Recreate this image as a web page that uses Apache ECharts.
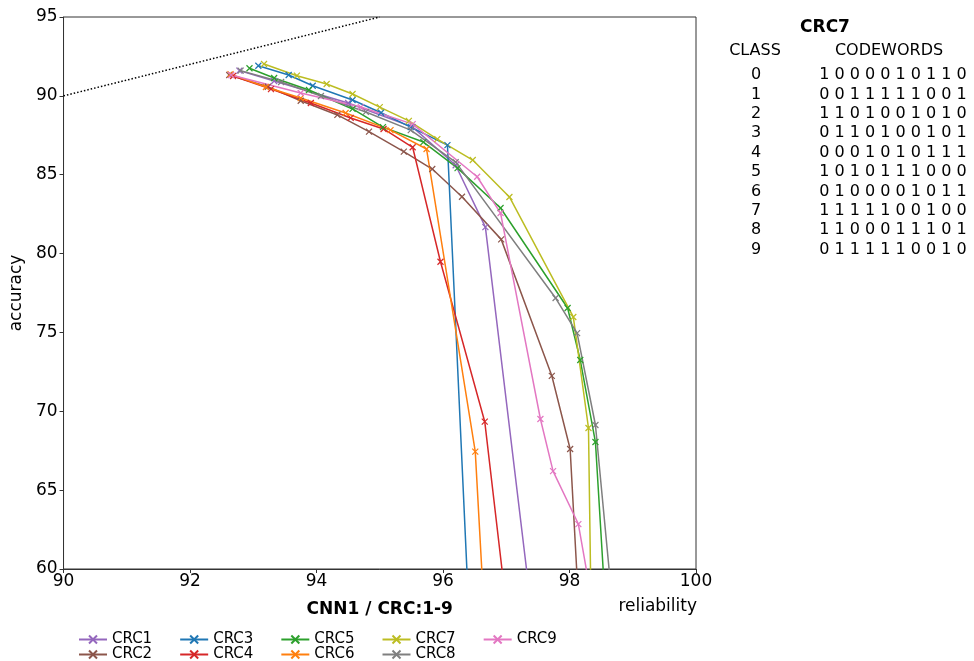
<!DOCTYPE html>
<html><head><meta charset="utf-8">
<script src="https://cdn.jsdelivr.net/npm/echarts@6/dist/echarts.min.js"></script>
<style>html,body{margin:0;padding:0;background:#fff}#c{width:974px;height:661px}</style>
</head><body><div id="c"></div>
<script>
const seriesNames = ['CRC1','CRC2','CRC3','CRC4','CRC5','CRC6','CRC7','CRC8','CRC9'];
const colors = ['#9467bd','#8c564b','#1f77b4','#d62728','#2ca02c','#ff7f0e','#bcbd22','#7f7f7f','#e377c2'];
const crc1 = [[92.78,91.6],[93.33,90.94],[94.50,89.55],[95.52,88.02],[96.20,85.6],[96.67,81.68],[97.38,58.0]];
const crc2 = [[92.62,91.32],[93.23,90.58],[93.75,89.69],[94.33,88.79],[94.83,87.73],[95.38,86.46],[95.83,85.36],[96.30,83.60],[96.92,80.90],[97.72,72.25],[98.01,67.61],[98.14,58.0]];
const crc3 = [[93.08,91.91],[93.56,91.32],[93.94,90.64],[94.57,89.74],[95.02,88.93],[95.49,88.02],[96.07,86.88],[96.40,58.0]];
const crc4 = [[92.68,91.26],[93.28,90.43],[93.91,89.55],[94.54,88.60],[95.06,87.90],[95.52,86.74],[95.96,79.48],[96.66,69.34],[96.99,58.0]];
const crc5 = [[92.94,91.75],[93.33,91.13],[93.88,90.37],[94.57,89.17],[95.05,88.02],[95.69,87.07],[96.23,85.42],[96.91,82.89],[97.97,76.55],[98.17,73.25],[98.41,68.05],[98.58,56.8]];
const crc6 = [[92.64,91.38],[93.20,90.56],[93.75,89.86],[94.46,88.91],[95.17,87.83],[95.74,86.63],[96.51,67.44],[96.64,58.0]];
const crc7 = [[93.17,92.02],[93.69,91.28],[94.16,90.75],[94.57,90.12],[95.0,89.29],[95.46,88.41],[95.91,87.26],[96.47,85.93],[97.05,83.59],[98.06,75.98],[98.30,68.94],[98.35,55.0]];
const crc8 = [[92.80,91.6],[93.44,90.88],[94.07,89.99],[94.78,88.98],[95.49,87.83],[96.20,85.8],[97.78,77.18],[98.12,74.96],[98.41,69.13],[98.72,56.0]];
const crc9 = [[92.65,91.32],[93.75,90.18],[94.70,89.29],[95.52,88.21],[96.54,84.87],[96.91,82.57],[97.54,69.51],[97.74,66.21],[98.14,62.85],[98.31,58.98],[98.36,56.0]];
const allData = [crc1,crc2,crc3,crc4,crc5,crc6,crc7,crc8,crc9];
const diagLine = [[90,90],[95,95]];
const xTicks = [90,92,94,96,98,100];
const yTicks = [60,65,70,75,80,85,90,95];
const tableTitle = 'CRC7';
const classes = ['0','1','2','3','4','5','6','7','8','9'];
const codewords = ['1000010110','0011111001','1101001010','0110100101','0001010111','1010111000','0100001011','1111100100','1100011101','0111110010'];

const FONT = 'DejaVu Sans';
const xMark = 'path://M0,0L10,10M10,0L0,10';
const chart = echarts.init(document.getElementById('c'), null, {renderer:'canvas'});

const series = seriesNames.map((n,i)=>({
  name:n, type:'line', data:allData[i], clip:true,
  symbol:xMark, symbolSize:6, showSymbol:true,
  lineStyle:{color:colors[i], width:1.5},
  itemStyle:{color:colors[i], borderColor:colors[i], borderWidth:1.2},
  emphasis:{disabled:true}, animation:false
}));
series.push({name:'diag', type:'line', data:diagLine, symbol:'none', clip:true,
  lineStyle:{color:'#000', width:1.5, type:[1.5,2]}, animation:false});

const graphics = [];
graphics.push({type:'text', x:825, y:28, style:{text:tableTitle, font:'bold 17px '+FONT, fill:'#000', textAlign:'center', textVerticalAlign:'middle'}});
graphics.push({type:'text', x:755, y:51, style:{text:'CLASS', font:'16px '+FONT, fill:'#000', textAlign:'center', textVerticalAlign:'middle'}});
graphics.push({type:'text', x:889, y:51, style:{text:'CODEWORDS', font:'16px '+FONT, fill:'#000', textAlign:'center', textVerticalAlign:'middle'}});
classes.forEach((c,i)=>{
  const y = 75 + i*19.4;
  graphics.push({type:'text', x:756, y:y, style:{text:c, font:'16px '+FONT, fill:'#000', textAlign:'center', textVerticalAlign:'middle'}});
  graphics.push({type:'text', x:893, y:y, style:{text:codewords[i].split('').join(' '), font:'16px '+FONT, fill:'#000', textAlign:'center', textVerticalAlign:'middle'}});
});
graphics.push({type:'text', x:697, y:607, style:{text:'reliability', font:'17px '+FONT, fill:'#000', textAlign:'right', textVerticalAlign:'middle'}});

const legendCommon = {orient:'horizontal', itemWidth:28, itemHeight:10, itemGap:27,
  textStyle:{fontFamily:FONT, fontSize:15, color:'#000'}, selectedMode:false};

chart.setOption({
  animation:false,
  textStyle:{fontFamily:FONT},
  color:colors,
  grid:{left:62, right:278, top:17, bottom:92, show:true, borderColor:'#333', borderWidth:1, containLabel:false},
  legend:[
    Object.assign({data:['CRC1','CRC3','CRC5','CRC7','CRC9'], left:73, top:627}, legendCommon),
    Object.assign({data:['CRC2','CRC4','CRC6','CRC8'], left:73, top:642}, legendCommon)
  ],
  xAxis:{type:'value', min:90, max:100, interval:2,
    name:'CNN1 / CRC:1-9', nameLocation:'middle', nameGap:32,
    nameTextStyle:{fontFamily:FONT, fontSize:17, fontWeight:'bold', color:'#000'},
    axisLine:{show:true, lineStyle:{color:'#333'}}, axisTick:{show:true, length:4, lineStyle:{color:'#333'}},
    axisLabel:{fontFamily:FONT, fontSize:17, color:'#000', margin:4}, splitLine:{show:false}},
  yAxis:{type:'value', min:60, max:95, interval:5,
    name:'accuracy', nameLocation:'middle', nameGap:38,
    nameTextStyle:{fontFamily:FONT, fontSize:17, color:'#000'},
    axisLine:{show:true, lineStyle:{color:'#333'}}, axisTick:{show:true, length:4, lineStyle:{color:'#333'}},
    axisLabel:{fontFamily:FONT, fontSize:17, color:'#000', margin:6}, splitLine:{show:false}},
  series:series,
  graphic:graphics
});
</script></body></html>
